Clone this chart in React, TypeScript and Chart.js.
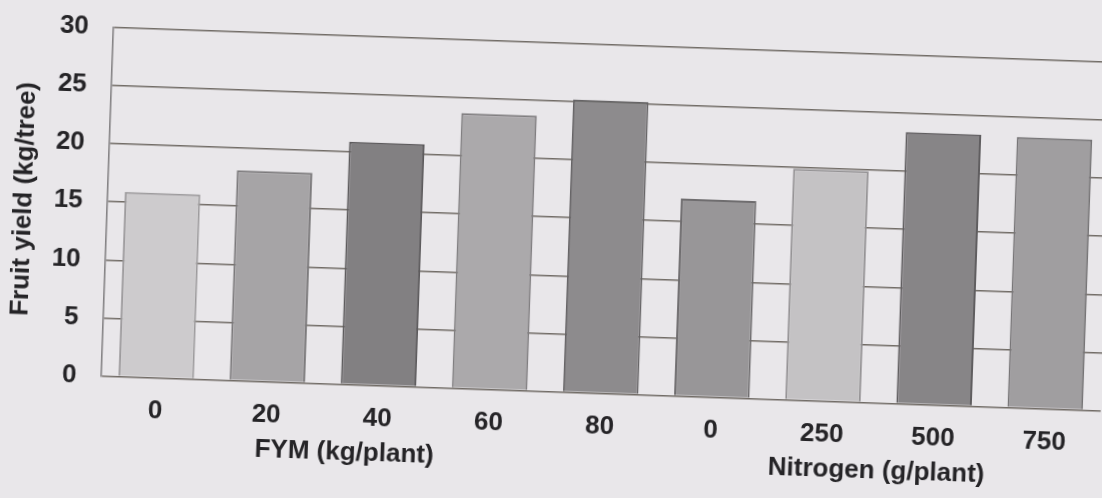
import React, { useEffect, useRef } from 'react';
import { Chart, registerables } from 'chart.js';

Chart.register(...registerables);

// ---- data ----
const categories = ['0', '20', '40', '60', '80', '0', '250', '500', '750'];
const fymYield = [15.9, 18.1, 20.9, 23.7, 25.2];
const nitrogenYield = [17.0, 19.9, 23.4, 23.3];
const groupTitles = ['FYM (kg/plant)', 'Nitrogen (g/plant)'];
const groupSizes = [fymYield.length, nitrogenYield.length];
const yTicks = [0, 5, 10, 15, 20, 25, 30];
const yTitle = 'Fruit yield (kg/tree)';

// ---- style ----
const barColors = ['#cdcbcd', '#a6a4a6', '#828082', '#aba9ab', '#8d8b8d', '#989698', '#c4c2c4', '#878587', '#a09ea0'];
const barBorders = ['#9d9b9d', '#7b797b', '#5c5a5c', '#807e80', '#666466', '#6f6d6f', '#959395', '#605e60', '#767476'];
const FONT = '"Liberation Sans", Arial, Helvetica, sans-serif';
const TEXT = '#252427';
const BG = '#e9e7ea';
const GRID = 'rgba(100,94,88,0.9)';
const CW = 1150;
const CH = 550;
const groupTitleNudge = [-32, 0];

const groupTitlesPlugin = {
  id: 'groupTitles',
  afterDraw(chart: any) {
    const { ctx } = chart;
    const x = chart.scales.x;
    ctx.save();
    ctx.font = `bold 26px ${FONT}`;
    ctx.fillStyle = TEXT;
    ctx.textAlign = 'center';
    ctx.textBaseline = 'middle';
    let start = 0;
    groupTitles.forEach((t, i) => {
      const end = start + groupSizes[i] - 1;
      const px = x.getPixelForValue((start + end) / 2) + groupTitleNudge[i];
      ctx.fillText(t, px, x.bottom + 1);
      start = end + 1;
    });
    ctx.restore();
  },
};

export default function App() {
  const ref = useRef<HTMLCanvasElement>(null);

  useEffect(() => {
    Chart.defaults.font.family = FONT;
    const chart = new Chart(ref.current as HTMLCanvasElement, {
      type: 'bar',
      data: {
        labels: categories,
        datasets: [
          {
            data: [...fymYield, ...nitrogenYield],
            backgroundColor: barColors,
            borderColor: barBorders,
            borderWidth: 2,
            barPercentage: 0.68,
            categoryPercentage: 1.0,
          },
        ],
      },
      options: {
        responsive: false,
        animation: false,
        devicePixelRatio: 1,
        layout: { padding: { left: 27.4, right: 24, top: 68, bottom: 66.3 } },
        plugins: {
          legend: { display: false },
          tooltip: { enabled: false },
        },
        scales: {
          x: {
            type: 'category',
            grid: { display: false, drawTicks: false },
            border: { display: false },
            ticks: {
              color: TEXT,
              font: { size: 26, weight: 'bold', family: FONT },
              padding: 18,
              maxRotation: 0,
              autoSkip: false,
            },
          },
          y: {
            min: yTicks[0],
            max: yTicks[yTicks.length - 1],
            afterBuildTicks: (s: any) => {
              s.ticks = yTicks.map((v) => ({ value: v }));
            },
            grid: { color: GRID, lineWidth: 1.6, drawTicks: false },
            border: { display: true, color: '#858385', width: 1.6 },
            ticks: {
              color: TEXT,
              font: { size: 26, weight: 'bold', family: FONT },
              padding: 24,
            },
            title: {
              display: true,
              text: yTitle,
              color: TEXT,
              font: { size: 26, weight: 'bold', family: FONT },
              padding: { top: 0, bottom: -10.2 },
            },
          },
        },
      },
      plugins: [groupTitlesPlugin],
    } as any);
    return () => chart.destroy();
  }, []);

  return (
    <div
      style={{
        position: 'fixed',
        left: 0,
        top: 0,
        width: 1102,
        height: 498,
        overflow: 'hidden',
        background: BG,
      }}
    >
      <div
        style={{
          position: 'absolute',
          left: -20,
          top: -25,
          width: CW,
          height: CH,
          transform: 'rotate(2deg)',
          transformOrigin: '571px 274px',
        }}
      >
        <canvas ref={ref} width={CW} height={CH} style={{ display: 'block', width: CW, height: CH }} />
      </div>
    </div>
  );
}
